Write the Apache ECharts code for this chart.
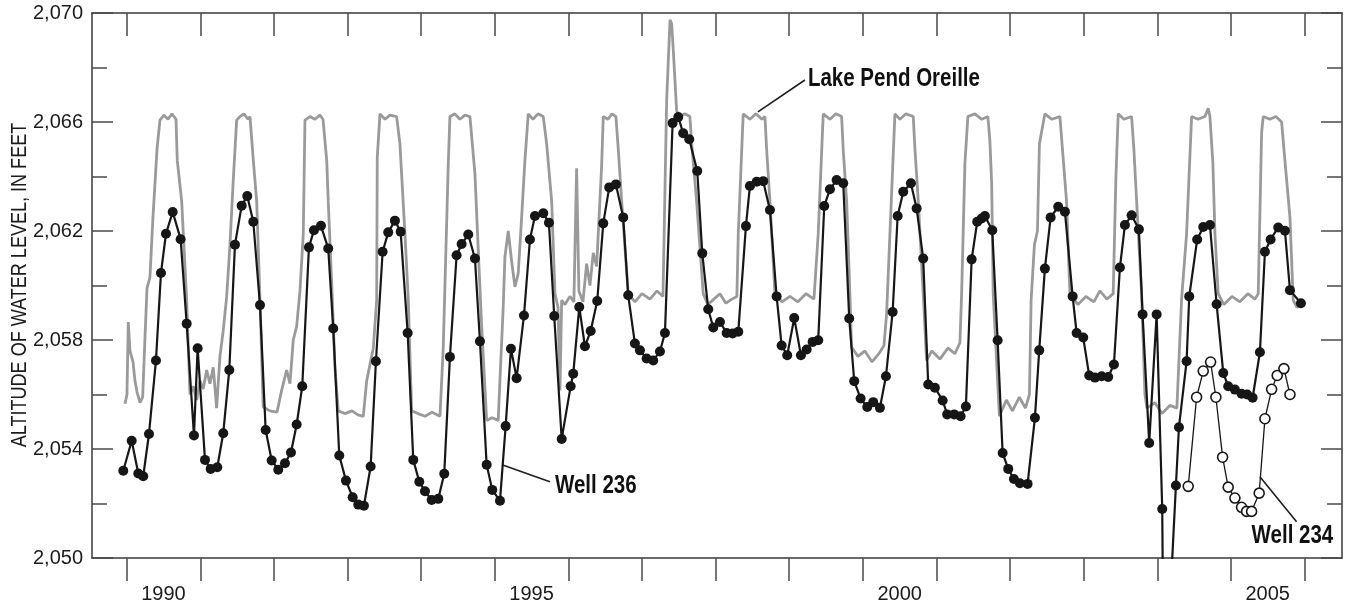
<!DOCTYPE html>
<html>
<head>
<meta charset="utf-8">
<script src="https://cdn.jsdelivr.net/npm/echarts@6/dist/echarts.min.js"></script>
<style>
  html, body { margin: 0; padding: 0; background: #fff; }
  #chart { width: 1346px; height: 611px; }
</style>
</head>
<body>
<div id="chart"></div>
<script>
// ---------------- DATA ----------------
// Lake Pend Oreille stage (decimal year, feet)
const lakeYears = [
  1989.977,1990.004,1990.022,1990.045,1990.086,1990.113,1990.140,1990.181,1990.217,1990.249,
  1990.276,1990.316,1990.357,1990.412,1990.452,1990.507,1990.561,1990.615,1990.670,1990.687,
  1990.747,1990.815,1990.860,1990.905,1990.951,1990.996,1991.040,1991.087,1991.131,1991.176,
  1991.222,1991.267,1991.312,1991.358,1991.403,1991.448,1991.494,1991.539,1991.593,1991.648,
  1991.675,1991.720,1991.766,1991.811,1991.855,1991.946,1992.042,1992.105,1992.173,1992.218,
  1992.263,1992.309,1992.354,1992.399,1992.422,1992.490,1992.558,1992.626,1992.667,1992.717,
  1992.738,1992.785,1992.829,1992.874,1992.965,1993.060,1993.142,1993.214,1993.260,1993.350,
  1993.396,1993.404,1993.441,1993.509,1993.576,1993.667,1993.712,1993.780,1993.825,1993.871,
  1993.957,1994.052,1994.147,1994.256,1994.300,1994.368,1994.391,1994.459,1994.527,1994.595,
  1994.663,1994.731,1994.776,1994.822,1994.890,1994.962,1995.047,1995.070,1995.115,1995.138,
  1995.183,1995.229,1995.274,1995.319,1995.365,1995.410,1995.455,1995.519,1995.587,1995.659,
  1995.705,1995.773,1995.818,1995.859,1995.886,1995.909,1995.954,1996.021,1996.075,1996.112,
  1996.143,1996.198,1996.248,1996.293,1996.338,1996.384,1996.452,1996.474,1996.538,1996.593,
  1996.646,1996.678,1996.724,1996.813,1996.904,1997.000,1997.109,1997.204,1997.285,1997.335,
  1997.381,1997.403,1997.425,1997.471,1997.516,1997.583,1997.651,1997.675,1997.742,1997.832,
  1997.896,1997.977,1998.059,1998.140,1998.221,1998.289,1998.308,1998.375,1998.466,1998.548,
  1998.629,1998.670,1998.693,1998.738,1998.806,1998.901,1999.010,1999.118,1999.227,1999.336,
  1999.394,1999.462,1999.553,1999.634,1999.712,1999.733,1999.780,1999.824,1999.847,1999.933,
  2000.028,2000.124,2000.219,2000.287,2000.323,2000.368,2000.436,2000.504,2000.586,2000.685,
  2000.708,2000.753,2000.820,2000.866,2000.938,2001.047,2001.156,2001.251,2001.319,2001.342,
  2001.387,2001.427,2001.522,2001.617,2001.699,2001.726,2001.750,2001.771,2001.855,2001.950,
  2002.032,2002.127,2002.209,2002.263,2002.286,2002.331,2002.372,2002.399,2002.473,2002.569,
  2002.677,2002.767,2002.813,2002.922,2003.030,2003.139,2003.220,2003.315,2003.401,2003.438,
  2003.469,2003.547,2003.651,2003.682,2003.719,2003.787,2003.832,2003.859,2003.968,2004.063,
  2004.171,2004.266,2004.330,2004.398,2004.466,2004.552,2004.647,2004.692,2004.715,2004.755,
  2004.783,2004.827,2004.905,2005.014,2005.122,2005.231,2005.326,2005.371,2005.417,2005.439,
  2005.530,2005.611,2005.689,2005.733,2005.802,2005.846,2005.897,2005.978
];
const lakeLevels = [
  2055.66,2056.0,2058.66,2057.6,2057.2,2056.5,2056.1,2055.7,2055.9,2058.1,
  2059.9,2060.3,2062.5,2065.0,2066.07,2066.25,2066.1,2066.3,2066.1,2064.6,
  2063.1,2059.46,2056.0,2056.3,2055.8,2056.5,2056.2,2056.9,2056.4,2057.0,
  2055.5,2057.4,2058.35,2059.58,2061.5,2063.87,2066.07,2066.2,2066.3,2066.1,
  2066.2,2064.6,2063.1,2059.46,2055.54,2055.4,2055.35,2056.15,2056.9,2056.4,
  2058.0,2058.5,2059.8,2061.9,2066.07,2066.2,2066.1,2066.25,2066.1,2064.6,
  2063.1,2060.1,2057.0,2055.4,2055.3,2055.4,2055.25,2055.2,2056.5,2057.7,
  2059.46,2064.7,2066.3,2066.1,2066.25,2066.2,2065.2,2061.9,2059.5,2055.4,
  2055.3,2055.2,2055.35,2055.2,2057.7,2064.4,2066.2,2066.3,2066.1,2066.25,
  2066.2,2064.1,2061.3,2058.5,2055.05,2055.15,2055.05,2056.5,2059.2,2061.05,
  2062.0,2060.9,2059.95,2060.44,2062.5,2064.6,2066.3,2066.1,2066.3,2066.2,
  2065.2,2063.1,2059.7,2059.2,2056.15,2059.46,2059.3,2059.6,2059.4,2064.3,
  2059.8,2059.4,2060.8,2060.0,2061.2,2060.7,2064.4,2066.2,2066.1,2066.3,
  2066.2,2065.0,2063.1,2059.7,2059.4,2059.7,2059.5,2059.8,2059.6,2066.8,
  2069.75,2069.6,2068.65,2066.4,2066.2,2066.3,2066.2,2065.2,2063.1,2059.7,
  2059.3,2059.5,2059.7,2059.35,2059.5,2059.6,2061.9,2066.3,2066.1,2066.3,
  2066.1,2066.2,2065.0,2063.1,2059.7,2059.4,2059.6,2059.4,2059.7,2059.5,
  2061.9,2066.3,2066.1,2066.3,2066.2,2065.0,2063.1,2059.7,2057.74,2057.4,
  2057.6,2057.2,2057.5,2057.8,2058.97,2061.9,2066.3,2066.1,2066.3,2066.2,
  2065.0,2063.1,2059.7,2057.25,2057.6,2057.3,2057.7,2057.5,2057.9,2059.7,
  2064.5,2066.2,2066.3,2066.1,2066.2,2065.3,2063.75,2059.7,2055.2,2055.8,
  2055.4,2055.9,2055.5,2056.0,2059.46,2061.5,2062.0,2065.2,2066.3,2066.1,
  2066.2,2063.1,2059.7,2059.3,2059.6,2059.4,2059.8,2059.5,2059.7,2064.0,
  2066.3,2066.1,2066.2,2065.0,2063.1,2059.7,2056.0,2055.5,2055.7,2055.3,
  2055.6,2055.5,2059.5,2061.9,2066.2,2066.1,2066.2,2066.5,2066.2,2064.5,
  2061.9,2059.7,2059.3,2059.6,2059.4,2059.7,2059.5,2059.7,2065.6,2066.2,
  2066.1,2066.2,2066.0,2064.6,2062.5,2059.46,2059.2,2059.3
];

// Well 236 (filled circles)
const well236Years = [
  1989.954,1990.068,1990.158,1990.225,1990.303,1990.398,1990.466,1990.534,1990.625,1990.733,
  1990.815,1990.914,1990.964,1991.064,1991.141,1991.231,1991.312,1991.394,1991.471,1991.562,
  1991.638,1991.720,1991.811,1991.888,1991.970,1992.059,1992.150,1992.232,1992.309,1992.385,
  1992.476,1992.544,1992.639,1992.738,1992.806,1992.888,1992.979,1993.070,1993.146,1993.223,
  1993.314,1993.386,1993.477,1993.553,1993.644,1993.722,1993.817,1993.893,1993.975,1994.052,
  1994.143,1994.233,1994.314,1994.391,1994.482,1994.550,1994.640,1994.731,1994.799,1994.890,
  1994.966,1995.071,1995.148,1995.220,1995.297,1995.397,1995.478,1995.546,1995.659,1995.736,
  1995.808,1995.909,1996.031,1996.066,1996.148,1996.225,1996.303,1996.392,1996.474,1996.555,
  1996.646,1996.745,1996.813,1996.904,1996.972,1997.063,1997.153,1997.244,1997.312,1997.416,
  1997.493,1997.560,1997.642,1997.751,1997.819,1997.900,1997.968,1998.059,1998.150,1998.231,
  1998.308,1998.412,1998.466,1998.558,1998.647,1998.738,1998.829,1998.897,1998.973,1999.068,
  1999.159,1999.237,1999.318,1999.394,1999.476,1999.553,1999.644,1999.734,1999.815,1999.883,
  1999.970,2000.060,2000.141,2000.232,2000.314,2000.405,2000.473,2000.549,2000.653,2000.731,
  2000.820,2000.888,2000.979,2001.084,2001.146,2001.241,2001.328,2001.400,2001.478,2001.554,
  2001.614,2001.658,2001.758,2001.831,2001.899,2001.975,2002.052,2002.134,2002.238,2002.338,
  2002.396,2002.473,2002.551,2002.654,2002.745,2002.850,2002.904,2002.994,2003.075,2003.153,
  2003.244,2003.333,2003.411,2003.492,2003.560,2003.651,2003.750,2003.800,2003.890,2003.991,
  2004.067,2004.091,2004.253,2004.294,2004.398,2004.434,2004.542,2004.624,2004.715,2004.806,
  2004.896,2004.963,2005.054,2005.145,2005.221,2005.295,2005.394,2005.462,2005.539,2005.643,
  2005.734,2005.802,2005.951
];
const well236Levels = [
  2053.2,2054.3,2053.1,2053.0,2054.55,2057.25,2060.46,2061.9,2062.7,2061.7,
  2058.6,2054.5,2057.7,2053.6,2053.27,2053.33,2054.58,2056.9,2061.5,2062.93,
  2063.28,2062.34,2059.28,2054.7,2053.58,2053.24,2053.48,2053.87,2054.9,2056.3,
  2061.4,2062.03,2062.19,2061.36,2058.42,2053.76,2052.84,2052.23,2051.96,2051.92,
  2053.36,2057.22,2061.24,2061.95,2062.38,2061.97,2058.26,2053.6,2052.8,2052.45,
  2052.13,2052.17,2053.09,2057.38,2061.11,2061.52,2061.87,2060.99,2057.95,2053.42,
  2052.5,2052.1,2054.84,2057.68,2056.6,2058.9,2061.69,2062.55,2062.65,2062.3,
  2058.88,2054.37,2056.3,2056.76,2059.21,2057.77,2058.33,2059.43,2062.28,2063.6,
  2063.71,2062.5,2059.64,2057.87,2057.62,2057.32,2057.25,2057.58,2058.26,2065.96,
  2066.18,2065.59,2065.37,2064.2,2061.18,2059.13,2058.46,2058.66,2058.26,2058.24,
  2058.3,2062.18,2063.65,2063.81,2063.83,2062.77,2059.6,2057.8,2057.44,2058.81,
  2057.44,2057.65,2057.93,2057.99,2062.92,2063.53,2063.87,2063.75,2058.79,2056.49,
  2055.85,2055.54,2055.72,2055.51,2056.67,2059.03,2062.55,2063.44,2063.75,2062.83,
  2060.99,2056.37,2056.25,2055.78,2055.27,2055.27,2055.2,2055.56,2060.96,2062.34,
  2062.46,2062.55,2062.03,2057.99,2053.85,2053.27,2052.9,2052.74,2052.72,2055.15,
  2057.62,2060.62,2062.5,2062.89,2062.71,2059.6,2058.26,2058.09,2056.7,2056.62,
  2056.67,2056.64,2057.1,2060.66,2062.22,2062.58,2062.06,2058.94,2054.22,2058.94,
  2051.8,2044.0,2052.66,2054.8,2057.22,2059.6,2061.69,2062.15,2062.22,2059.31,
  2056.79,2056.3,2056.18,2056.03,2056.0,2055.88,2057.55,2061.24,2061.69,2062.13,
  2062.01,2059.83,2059.35
];

// Well 234 (open circles)
const well234Years = [
  2004.420,2004.534,2004.624,2004.724,2004.796,2004.887,2004.963,2005.054,2005.145,2005.213,
  2005.281,2005.384,2005.462,2005.553,2005.629,2005.720,2005.802
];
const well234Levels = [
  2052.63,2055.9,2056.86,2057.19,2055.9,2053.7,2052.6,2052.2,2051.86,2051.71,
  2051.71,2052.38,2055.11,2056.19,2056.7,2056.95,2056.0
];

// Axis ticks and labels
const yearTicks = [1990,1991,1992,1993,1994,1995,1996,1997,1998,1999,2000,2001,2002,2003,2004,2005,2006];
const yearLabels = [1990, 1995, 2000, 2005];   // labels sit mid-year
const yTickLabels = [2050, 2054, 2058, 2062, 2066, 2070];

// ---------------- CHART ----------------
const FONT = "'Liberation Sans', Arial, Helvetica, sans-serif";
const NARROW = 0.82;   // horizontal squeeze to mimic the condensed face
const zip = (a, b) => a.map((v, i) => [v, b[i]]);

const chart = echarts.init(document.getElementById('chart'), null, { renderer: 'canvas' });

const axisLineStyle = { color: '#3a3a3a', width: 1.5 };
const tickStyle = { color: '#4a4a4a', width: 1.5 };

const X_MIN = 1989.529, X_MAX = 2006.509;

chart.setOption({
  animation: false,
  backgroundColor: '#ffffff',
  grid: { left: 92, right: 4, top: 13, bottom: 53, containLabel: false },
  xAxis: [
    {
      type: 'value', min: X_MIN, max: X_MAX, position: 'bottom',
      axisLine: { show: true, onZero: false, lineStyle: axisLineStyle },
      axisTick: { show: true, inside: false, length: 23, customValues: yearTicks, lineStyle: tickStyle },
      axisLabel: {
        show: true, customValues: yearLabels.map(y => y + 0.5),
        formatter: v => String(Math.floor(v)),
        margin: 26, fontSize: 20, fontFamily: FONT, color: '#1a1a1a'
      },
      splitLine: { show: false }
    },
    {
      type: 'value', min: X_MIN, max: X_MAX, position: 'top',
      axisLine: { show: true, onZero: false, lineStyle: axisLineStyle },
      axisTick: { show: true, inside: true, length: 23, customValues: yearTicks, lineStyle: tickStyle },
      axisLabel: { show: false },
      splitLine: { show: false }
    }
  ],
  yAxis: [
    {
      type: 'value', min: 2050, max: 2070, interval: 4, position: 'left',
      axisLine: { show: true, onZero: false, lineStyle: axisLineStyle },
      axisTick: { show: true, inside: true, length: 21, lineStyle: tickStyle },
      minorTick: { show: true, splitNumber: 2, length: 15, lineStyle: tickStyle },
      axisLabel: {
        show: true, customValues: yTickLabels,
        formatter: v => v.toLocaleString('en-US'),
        margin: 9, fontSize: 20, fontFamily: FONT, color: '#1a1a1a'
      },
      splitLine: { show: false }, minorSplitLine: { show: false }
    },
    {
      type: 'value', min: 2050, max: 2070, interval: 4, position: 'right',
      axisLine: { show: true, onZero: false, lineStyle: axisLineStyle },
      axisTick: { show: true, inside: true, length: 21, lineStyle: tickStyle },
      minorTick: { show: true, splitNumber: 2, length: 15, lineStyle: tickStyle },
      axisLabel: { show: false },
      splitLine: { show: false }, minorSplitLine: { show: false }
    }
  ],
  series: [
    {
      name: 'Lake Pend Oreille', type: 'line', xAxisIndex: 0, yAxisIndex: 0,
      data: zip(lakeYears, lakeLevels), showSymbol: false, symbol: 'none',
      lineStyle: { color: '#9a9a9a', width: 2.8 }, clip: true, z: 2
    },
    {
      name: 'Well 236', type: 'line', xAxisIndex: 0, yAxisIndex: 0,
      data: zip(well236Years, well236Levels),
      symbol: 'circle', symbolSize: 10, showSymbol: true,
      lineStyle: { color: '#161616', width: 2.2 },
      itemStyle: { color: '#161616' }, clip: true, z: 4
    },
    {
      name: 'Well 234', type: 'line', xAxisIndex: 0, yAxisIndex: 0,
      data: zip(well234Years, well234Levels),
      symbol: 'circle', symbolSize: 10, showSymbol: true,
      lineStyle: { color: '#161616', width: 1.3 },
      itemStyle: { color: '#ffffff', borderColor: '#161616', borderWidth: 1.6 }, clip: true, z: 5
    }
  ]
});

// ---------------- ANNOTATIONS (anchored in data units) ----------------
const annotations = [
  { text: 'Lake Pend Oreille', at: [1999.254, 2067.58], from: [1998.575, 2066.37], to: [1999.213, 2067.54] },
  { text: 'Well 236',          at: [1995.818, 2052.64], from: [1995.107, 2053.41], to: [1995.750, 2052.80] },
  { text: 'Well 234',          at: [2005.281, 2050.81], from: [2005.394, 2052.98], to: [2005.892, 2051.33] }
];
const px = p => chart.convertToPixel({ xAxisIndex: 0, yAxisIndex: 0 }, p);
const graphics = [];
annotations.forEach(a => {
  const f = px(a.from), t = px(a.to), c = px(a.at);
  graphics.push({
    type: 'line', shape: { x1: f[0], y1: f[1], x2: t[0], y2: t[1] },
    style: { stroke: '#1e1e1e', lineWidth: 1.6 }, z: 10
  });
  graphics.push({
    type: 'text', x: c[0], y: c[1], scaleX: NARROW,
    style: { text: a.text, font: "bold 25px " + FONT, fill: '#111', textAlign: 'left', textVerticalAlign: 'middle' },
    z: 10
  });
});
// y-axis title
graphics.push({
  type: 'text', x: 20, y: 285, rotation: Math.PI / 2, scaleX: NARROW,
  style: { text: 'ALTITUDE OF WATER LEVEL, IN FEET', font: "22px " + FONT, fill: '#1a1a1a', textAlign: 'center', textVerticalAlign: 'middle' }
});
chart.setOption({ graphic: graphics });
</script>
</body>
</html>
